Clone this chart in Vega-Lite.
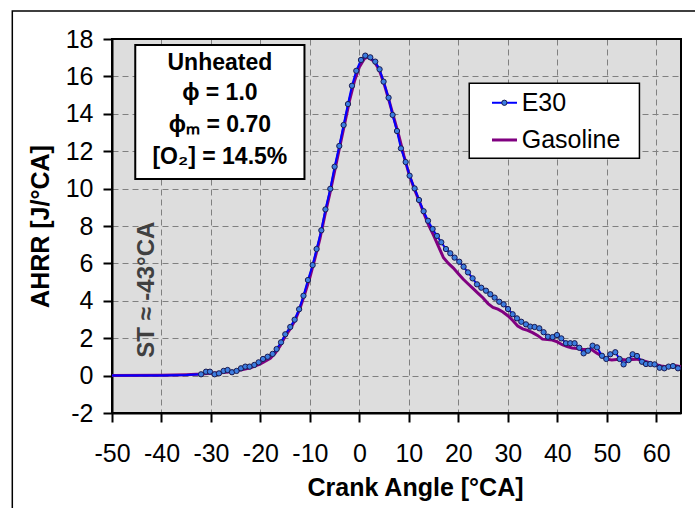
{
  "$schema": "https://vega.github.io/schema/vega-lite/v6.json",
  "width": 569,
  "height": 374,
  "autosize": {"type": "none"},
  "padding": {"left": 112, "top": 39, "right": 14, "bottom": 95},
  "background": "white",
  "config": {
    "font": "Liberation Sans",
    "view": {"stroke": null, "fill": "#DDDDDD"}
  },
  "data": {"values": [{"note": "annotation"}]},
  "datasets": {
    "e30": [
      {"ca": -50, "ahrr": 0.0}, {"ca": -45, "ahrr": 0.0}, {"ca": -40, "ahrr": 0.01}, {"ca": -35, "ahrr": 0.03},
      {"ca": -32.0, "ahrr": 0.07}, {"ca": -31.0, "ahrr": 0.21}, {"ca": -30.2, "ahrr": 0.21}, {"ca": -29.26, "ahrr": 0.07},
      {"ca": -28.38, "ahrr": 0.12}, {"ca": -27.45, "ahrr": 0.25}, {"ca": -26.64, "ahrr": 0.3}, {"ca": -25.75, "ahrr": 0.18},
      {"ca": -24.82, "ahrr": 0.25}, {"ca": -23.93, "ahrr": 0.39}, {"ca": -23.06, "ahrr": 0.48}, {"ca": -22.19, "ahrr": 0.48},
      {"ca": -21.24, "ahrr": 0.57}, {"ca": -20.37, "ahrr": 0.71}, {"ca": -19.48, "ahrr": 0.89}, {"ca": -18.55, "ahrr": 1.01},
      {"ca": -17.54, "ahrr": 1.16}, {"ca": -16.73, "ahrr": 1.42}, {"ca": -15.84, "ahrr": 1.78}, {"ca": -14.98, "ahrr": 2.21},
      {"ca": -13.97, "ahrr": 2.6}, {"ca": -13.09, "ahrr": 2.99}, {"ca": -12.18, "ahrr": 3.55}, {"ca": -11.3, "ahrr": 4.27},
      {"ca": -10.4, "ahrr": 5.11}, {"ca": -9.45, "ahrr": 5.91}, {"ca": -8.65, "ahrr": 6.77}, {"ca": -7.69, "ahrr": 7.77},
      {"ca": -6.86, "ahrr": 8.89}, {"ca": -5.88, "ahrr": 9.99}, {"ca": -5.01, "ahrr": 11.17}, {"ca": -4.06, "ahrr": 12.28},
      {"ca": -3.19, "ahrr": 13.4}, {"ca": -2.31, "ahrr": 14.52}, {"ca": -1.5, "ahrr": 15.5}, {"ca": -0.63, "ahrr": 16.3},
      {"ca": 0.32, "ahrr": 16.88}, {"ca": 1.19, "ahrr": 17.11}, {"ca": 2.2, "ahrr": 17.02}, {"ca": 3.21, "ahrr": 16.79},
      {"ca": 4.08, "ahrr": 16.38}, {"ca": 4.89, "ahrr": 15.72}, {"ca": 5.9, "ahrr": 14.86}, {"ca": 6.71, "ahrr": 13.94},
      {"ca": 7.6, "ahrr": 13.08}, {"ca": 8.4, "ahrr": 12.15}, {"ca": 9.35, "ahrr": 11.42}, {"ca": 10.15, "ahrr": 10.69},
      {"ca": 11.16, "ahrr": 10.01}, {"ca": 12.05, "ahrr": 9.39}, {"ca": 12.98, "ahrr": 8.79}, {"ca": 13.87, "ahrr": 8.28},
      {"ca": 14.8, "ahrr": 7.84}, {"ca": 15.68, "ahrr": 7.47}, {"ca": 16.55, "ahrr": 7.13}, {"ca": 17.5, "ahrr": 6.77},
      {"ca": 18.37, "ahrr": 6.54}, {"ca": 19.24, "ahrr": 6.31}, {"ca": 20.19, "ahrr": 6.09}, {"ca": 21.06, "ahrr": 5.82},
      {"ca": 21.95, "ahrr": 5.52}, {"ca": 22.88, "ahrr": 5.2}, {"ca": 23.77, "ahrr": 4.88}, {"ca": 24.64, "ahrr": 4.7},
      {"ca": 25.59, "ahrr": 4.54}, {"ca": 26.46, "ahrr": 4.35}, {"ca": 27.33, "ahrr": 4.17}, {"ca": 28.27, "ahrr": 3.95},
      {"ca": 29.15, "ahrr": 3.81}, {"ca": 30.04, "ahrr": 3.56}, {"ca": 30.97, "ahrr": 3.28}, {"ca": 31.85, "ahrr": 3.06},
      {"ca": 32.72, "ahrr": 2.88}, {"ca": 33.67, "ahrr": 2.74}, {"ca": 34.54, "ahrr": 2.62}, {"ca": 35.41, "ahrr": 2.6},
      {"ca": 36.36, "ahrr": 2.53}, {"ca": 37.23, "ahrr": 2.32}, {"ca": 38.11, "ahrr": 2.08}, {"ca": 39.05, "ahrr": 2.06},
      {"ca": 39.94, "ahrr": 2.17}, {"ca": 40.81, "ahrr": 1.99}, {"ca": 41.75, "ahrr": 1.73}, {"ca": 42.62, "ahrr": 1.73},
      {"ca": 43.49, "ahrr": 1.73}, {"ca": 44.44, "ahrr": 1.49}, {"ca": 45.32, "ahrr": 1.19}, {"ca": 46.2, "ahrr": 1.33},
      {"ca": 47.13, "ahrr": 1.6}, {"ca": 48.02, "ahrr": 1.51}, {"ca": 49.03, "ahrr": 1.06}, {"ca": 49.9, "ahrr": 0.89},
      {"ca": 50.71, "ahrr": 1.14}, {"ca": 51.72, "ahrr": 1.25}, {"ca": 52.59, "ahrr": 0.89}, {"ca": 53.4, "ahrr": 0.6},
      {"ca": 54.41, "ahrr": 0.83}, {"ca": 55.22, "ahrr": 1.14}, {"ca": 56.1, "ahrr": 1.05}, {"ca": 57.11, "ahrr": 0.74},
      {"ca": 57.92, "ahrr": 0.62}, {"ca": 58.79, "ahrr": 0.62}, {"ca": 59.66, "ahrr": 0.6}, {"ca": 60.67, "ahrr": 0.42},
      {"ca": 61.63, "ahrr": 0.39}, {"ca": 62.49, "ahrr": 0.48}, {"ca": 63.38, "ahrr": 0.51}, {"ca": 64.39, "ahrr": 0.39},
      {"ca": 65, "ahrr": 0.4}
    ],
    "gasoline": [
      {"ca": -50, "ahrr": 0.0}, {"ca": -40, "ahrr": 0.02}, {"ca": -35, "ahrr": 0.05}, {"ca": -32, "ahrr": 0.08},
      {"ca": -30, "ahrr": 0.12}, {"ca": -28, "ahrr": 0.15}, {"ca": -26, "ahrr": 0.2}, {"ca": -24, "ahrr": 0.3},
      {"ca": -22, "ahrr": 0.42}, {"ca": -20, "ahrr": 0.62}, {"ca": -18, "ahrr": 0.92}, {"ca": -17, "ahrr": 1.2},
      {"ca": -16, "ahrr": 1.6}, {"ca": -15, "ahrr": 2.1}, {"ca": -14, "ahrr": 2.5}, {"ca": -13, "ahrr": 2.95},
      {"ca": -12, "ahrr": 3.6}, {"ca": -11, "ahrr": 4.4}, {"ca": -10, "ahrr": 5.25}, {"ca": -9, "ahrr": 6.25},
      {"ca": -8, "ahrr": 7.3}, {"ca": -7, "ahrr": 8.55}, {"ca": -6, "ahrr": 9.7}, {"ca": -5, "ahrr": 10.95},
      {"ca": -4, "ahrr": 12.2}, {"ca": -3, "ahrr": 13.45}, {"ca": -2, "ahrr": 14.7}, {"ca": -1, "ahrr": 15.75},
      {"ca": 0, "ahrr": 16.5}, {"ca": 1, "ahrr": 16.95}, {"ca": 1.5, "ahrr": 17.02}, {"ca": 2, "ahrr": 17.0},
      {"ca": 3, "ahrr": 16.8}, {"ca": 4, "ahrr": 16.35}, {"ca": 5, "ahrr": 15.6}, {"ca": 6, "ahrr": 14.7},
      {"ca": 7, "ahrr": 13.75}, {"ca": 8, "ahrr": 12.8}, {"ca": 9, "ahrr": 11.75}, {"ca": 10, "ahrr": 10.8},
      {"ca": 11, "ahrr": 10.05}, {"ca": 12, "ahrr": 9.4}, {"ca": 13, "ahrr": 8.7}, {"ca": 14, "ahrr": 8.05},
      {"ca": 15, "ahrr": 7.5}, {"ca": 16, "ahrr": 6.9}, {"ca": 17, "ahrr": 6.3}, {"ca": 18, "ahrr": 6.0},
      {"ca": 19, "ahrr": 5.75}, {"ca": 20, "ahrr": 5.45}, {"ca": 21, "ahrr": 5.15}, {"ca": 22, "ahrr": 4.9},
      {"ca": 23, "ahrr": 4.65}, {"ca": 24, "ahrr": 4.4}, {"ca": 25, "ahrr": 4.15}, {"ca": 26, "ahrr": 3.85},
      {"ca": 27, "ahrr": 3.65}, {"ca": 28, "ahrr": 3.55}, {"ca": 29, "ahrr": 3.4}, {"ca": 30, "ahrr": 3.2},
      {"ca": 31, "ahrr": 2.95}, {"ca": 32, "ahrr": 2.65}, {"ca": 33, "ahrr": 2.5}, {"ca": 34, "ahrr": 2.42},
      {"ca": 35, "ahrr": 2.3}, {"ca": 36, "ahrr": 2.15}, {"ca": 37, "ahrr": 1.95}, {"ca": 38, "ahrr": 1.93},
      {"ca": 39, "ahrr": 1.9}, {"ca": 40, "ahrr": 1.8}, {"ca": 41, "ahrr": 1.65}, {"ca": 42, "ahrr": 1.55},
      {"ca": 43, "ahrr": 1.48}, {"ca": 44, "ahrr": 1.45}, {"ca": 45, "ahrr": 1.4}, {"ca": 46, "ahrr": 1.4},
      {"ca": 47, "ahrr": 1.38}, {"ca": 48, "ahrr": 1.2}, {"ca": 49, "ahrr": 1.05}, {"ca": 50, "ahrr": 0.88},
      {"ca": 51, "ahrr": 0.84}, {"ca": 52, "ahrr": 0.86}, {"ca": 53, "ahrr": 0.86}, {"ca": 54, "ahrr": 0.84},
      {"ca": 55, "ahrr": 0.86}, {"ca": 56, "ahrr": 0.88}, {"ca": 57, "ahrr": 0.82}, {"ca": 58, "ahrr": 0.74},
      {"ca": 59, "ahrr": 0.66}, {"ca": 60, "ahrr": 0.58}, {"ca": 61, "ahrr": 0.52}, {"ca": 62, "ahrr": 0.48},
      {"ca": 63, "ahrr": 0.5}, {"ca": 64, "ahrr": 0.52}, {"ca": 65, "ahrr": 0.48}
    ],
    "inset": [
      {"ca": -28.2, "ahrr": 16.73, "label": "Unheated"},
      {"ca": -28.2, "ahrr": 15.1, "label": "ϕ = 1.0"},
      {"ca": -28.2, "ahrr": 13.4, "label": "ϕₘ = 0.70"},
      {"ca": -28.2, "ahrr": 11.69, "label": "[O₂] = 14.5%"}
    ],
    "legendText": [
      {"ca": 32.8, "ahrr": 14.59, "label": "E30"},
      {"ca": 32.8, "ahrr": 12.6, "label": "Gasoline"}
    ]
  },
  "encoding": {
    "x": {
      "type": "quantitative",
      "scale": {"domain": [-50, 65], "nice": false, "zero": false},
      "axis": {
        "title": "Crank Angle [°CA]",
        "values": [-50, -40, -30, -20, -10, 0, 10, 20, 30, 40, 50, 60],
        "labelExpr": "'' + datum.value",
        "grid": true, "gridColor": "#808080", "gridDash": [6, 4], "gridWidth": 1, "gridOpacity": 1,
        "domainColor": "black", "domainWidth": 2,
        "tickColor": "black", "tickWidth": 2, "tickSize": 9,
        "labelFontSize": 25, "labelColor": "black", "labelPadding": 19, "labelFlush": false, "labelOverlap": false,
        "titleFontSize": 25, "titleFontWeight": "bold", "titleColor": "black", "titlePadding": 9, "titleX": 303
      }
    },
    "y": {
      "type": "quantitative",
      "scale": {"domain": [-2, 18], "nice": false, "zero": false},
      "axis": {
        "title": "AHRR [J/°CA]",
        "values": [-2, 0, 2, 4, 6, 8, 10, 12, 14, 16, 18],
        "labelExpr": "'' + datum.value",
        "grid": true, "gridColor": "#808080", "gridDash": [6, 4], "gridWidth": 1, "gridOpacity": 1,
        "domainColor": "black", "domainWidth": 2,
        "tickColor": "black", "tickWidth": 2, "tickSize": 9,
        "labelFontSize": 25, "labelColor": "black", "labelPadding": 10, "labelOverlap": false,
        "titleFontSize": 25, "titleFontWeight": "bold", "titleColor": "black", "titlePadding": 12
      }
    }
  },
  "layer": [
    {
      "mark": {"type": "rect", "filled": false, "color": "black", "strokeWidth": 1.5, "clip": false},
      "encoding": {"x": {"datum": -70.15}, "x2": {"datum": 78}, "y": {"datum": 19.5}, "y2": {"datum": -9}}
    },
    {
      "mark": {"type": "rect", "filled": false, "color": "black", "strokeWidth": 2},
      "encoding": {"x": {"datum": -50}, "x2": {"datum": 65}, "y": {"datum": -2}, "y2": {"datum": 18}}
    },
    {
      "data": {"name": "gasoline"},
      "mark": {"type": "line", "color": "#800080", "strokeWidth": 3},
      "encoding": {"x": {"field": "ca", "type": "quantitative"}, "y": {"field": "ahrr", "type": "quantitative"}}
    },
    {
      "data": {"name": "e30"},
      "mark": {"type": "line", "color": "#0000FF", "strokeWidth": 2},
      "encoding": {"x": {"field": "ca", "type": "quantitative"}, "y": {"field": "ahrr", "type": "quantitative"}}
    },
    {
      "data": {"name": "e30"},
      "transform": [{"filter": {"field": "ca", "range": [-32.5, 64.5]}}],
      "mark": {"type": "point", "filled": true, "fill": "#3C7DE0", "stroke": "#1A1A50", "strokeWidth": 1, "size": 28, "opacity": 1},
      "encoding": {"x": {"field": "ca", "type": "quantitative"}, "y": {"field": "ahrr", "type": "quantitative"}}
    },
    {
      "mark": {"type": "rect", "fill": "white", "stroke": "black", "strokeWidth": 2},
      "encoding": {"x": {"datum": -45.3}, "x2": {"datum": -11.1}, "y": {"datum": 10.51}, "y2": {"datum": 17.68}}
    },
    {
      "data": {"name": "inset"},
      "mark": {"type": "text", "font": "Liberation Sans", "fontSize": 23, "fontWeight": "bold", "color": "black", "align": "center", "baseline": "middle"},
      "encoding": {"x": {"field": "ca", "type": "quantitative"}, "y": {"field": "ahrr", "type": "quantitative"}, "text": {"field": "label"}}
    },
    {
      "mark": {"type": "rect", "fill": "white", "stroke": "black", "strokeWidth": 1.5},
      "encoding": {"x": {"datum": 22.2}, "x2": {"datum": 56.6}, "y": {"datum": 11.62}, "y2": {"datum": 15.63}}
    },
    {
      "mark": {"type": "rule", "color": "#0000FF", "strokeWidth": 2},
      "encoding": {"x": {"datum": 26.8}, "x2": {"datum": 31.85}, "y": {"datum": 14.59}}
    },
    {
      "mark": {"type": "point", "filled": true, "fill": "#3C7DE0", "stroke": "#1A1A50", "strokeWidth": 1, "size": 28, "opacity": 1},
      "encoding": {"x": {"datum": 29.3}, "y": {"datum": 14.59}}
    },
    {
      "mark": {"type": "rule", "color": "#800080", "strokeWidth": 3},
      "encoding": {"x": {"datum": 26.8}, "x2": {"datum": 31.85}, "y": {"datum": 12.6}}
    },
    {
      "data": {"name": "legendText"},
      "mark": {"type": "text", "font": "Liberation Sans", "fontSize": 25, "color": "black", "align": "left", "baseline": "middle"},
      "encoding": {"x": {"field": "ca", "type": "quantitative"}, "y": {"field": "ahrr", "type": "quantitative"}, "text": {"field": "label"}}
    },
    {
      "mark": {"type": "text", "font": "Liberation Sans", "fontSize": 24, "fontWeight": "bold", "color": "#404040", "align": "left", "baseline": "middle", "angle": 270, "text": "ST ≈ -43°CA"},
      "encoding": {"x": {"datum": -43}, "y": {"datum": 0.95}}
    }
  ]
}
